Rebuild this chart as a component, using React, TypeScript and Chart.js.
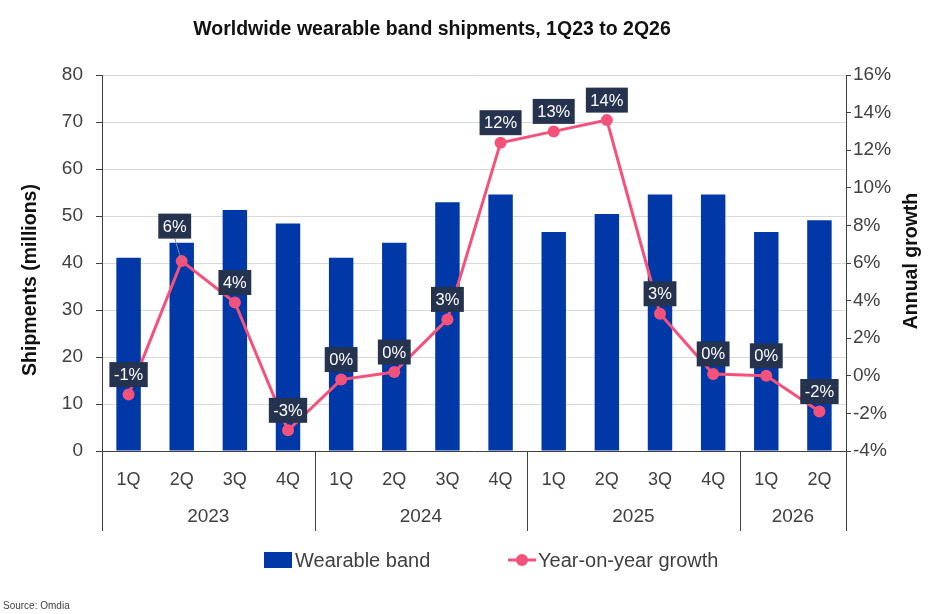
import { useEffect, useRef } from 'react';
import { Chart, registerables, type Plugin } from 'chart.js';

Chart.register(...registerables);

const QUARTERS = ['1Q', '2Q', '3Q', '4Q', '1Q', '2Q', '3Q', '4Q', '1Q', '2Q', '3Q', '4Q', '1Q', '2Q'];
const YEARS = ['2023', '2024', '2025', '2026'];
const YEAR_SPANS = [4, 4, 4, 2];
// millions of units
const SHIPMENTS = [41.1, 44.3, 51.3, 48.4, 41.1, 44.3, 52.9, 54.6, 46.6, 50.4, 54.6, 54.6, 46.6, 49.1];
// year-on-year growth, %
const GROWTH = [-1.0, 6.1, 3.9, -2.9, -0.2, 0.2, 3.0, 12.4, 13.0, 13.6, 3.3, 0.1, 0.0, -1.9];

const FONT = '"Liberation Sans", Arial, sans-serif';
const TEXT = '#404040';
const BAR = '#0038a8';
const LINE = '#f5527b';
const BOX = '#26334f';

const overlay: Plugin<'bar'> = {
  id: 'overlay',
  afterDraw(chart) {
    const { ctx, chartArea } = chart;
    const x = chart.scales.x;
    const step = x.getPixelForValue(1) - x.getPixelForValue(0);

    ctx.save();

    // title
    ctx.fillStyle = '#111';
    ctx.font = `bold 19.5px ${FONT}`;
    ctx.textAlign = 'center';
    ctx.textBaseline = 'middle';
    ctx.fillText('Worldwide wearable band shipments, 1Q23 to 2Q26', 432, 30);

    // axis titles
    ctx.save();
    ctx.translate(31, 280);
    ctx.rotate(-Math.PI / 2);
    ctx.fillText('Shipments (millions)', 0, 0);
    ctx.restore();
    ctx.save();
    ctx.translate(912, 261);
    ctx.rotate(-Math.PI / 2);
    ctx.fillText('Annual growth', 0, 0);
    ctx.restore();

    // year groups under the quarters
    ctx.strokeStyle = TEXT;
    ctx.lineWidth = 1;
    let start = 0;
    const edges = [0];
    YEAR_SPANS.forEach((n) => {
      start += n;
      edges.push(start);
    });
    edges.forEach((i) => {
      const px = Math.round(x.getPixelForValue(0) - step / 2 + i * step) + 0.5;
      ctx.beginPath();
      ctx.moveTo(px, chartArea.bottom);
      ctx.lineTo(px, chartArea.bottom + 80);
      ctx.stroke();
    });
    ctx.fillStyle = TEXT;
    ctx.font = `19px ${FONT}`;
    YEARS.forEach((year, k) => {
      const a = edges[k];
      const b = edges[k + 1];
      const mid = x.getPixelForValue(0) - step / 2 + ((a + b) / 2) * step;
      ctx.fillText(year, mid, chartArea.bottom + 66);
    });

    // data labels on the growth line
    const meta = chart.getDatasetMeta(1);
    ctx.font = `16.5px ${FONT}`;
    meta.data.forEach((pt, i) => {
      const lift = i === 1 ? 35 : 20;
      const cx = pt.x - (i === 1 ? 7 : 0);
      const cy = pt.y - lift;
      const label = `${Math.round(GROWTH[i])}%`;
      const w = ctx.measureText(label).width + 9;
      const h = 25;
      if (i === 1) {
        ctx.strokeStyle = '#8a8a8a';
        ctx.beginPath();
        ctx.moveTo(cx, cy + h / 2);
        ctx.lineTo(pt.x, pt.y);
        ctx.stroke();
      }
      ctx.fillStyle = BOX;
      ctx.fillRect(cx - w / 2, cy - h / 2, w, h);
      ctx.fillStyle = '#fff';
      ctx.fillText(label, cx, cy + 1);
    });

    // legend
    const ly = 560;
    ctx.font = `20px ${FONT}`;
    ctx.textAlign = 'left';
    ctx.fillStyle = BAR;
    ctx.fillRect(264, ly - 8, 28, 16);
    ctx.fillStyle = TEXT;
    ctx.fillText('Wearable band', 295, ly + 1);
    ctx.strokeStyle = LINE;
    ctx.lineWidth = 3;
    ctx.beginPath();
    ctx.moveTo(508, ly);
    ctx.lineTo(536, ly);
    ctx.stroke();
    ctx.fillStyle = LINE;
    ctx.beginPath();
    ctx.arc(522, ly, 6, 0, Math.PI * 2);
    ctx.fill();
    ctx.fillStyle = TEXT;
    ctx.fillText('Year-on-year growth', 538, ly + 1);

    // source
    ctx.font = `10px ${FONT}`;
    ctx.fillText('Source: Omdia', 3, 606);

    ctx.restore();
  },
};

export default function App() {
  const canvasRef = useRef<HTMLCanvasElement | null>(null);

  useEffect(() => {
    document.body.style.margin = '0';
    const canvas = canvasRef.current;
    if (!canvas) return;

    const chart = new Chart(canvas, {
      type: 'bar',
      data: {
        labels: QUARTERS,
        datasets: [
          {
            type: 'bar',
            label: 'Wearable band',
            data: SHIPMENTS,
            backgroundColor: BAR,
            yAxisID: 'y',
            categoryPercentage: 1,
            barPercentage: 0.46,
            order: 1,
          },
          {
            type: 'line',
            label: 'Year-on-year growth',
            data: GROWTH,
            borderColor: LINE,
            backgroundColor: LINE,
            borderWidth: 3,
            pointRadius: 6,
            pointBackgroundColor: LINE,
            pointBorderWidth: 0,
            yAxisID: 'y1',
            order: 0,
          },
        ] as any,
      },
      options: {
        responsive: true,
        maintainAspectRatio: false,
        animation: false,
        layout: { padding: { top: 75, bottom: 83, left: 0, right: 0 } },
        plugins: {
          legend: { display: false },
          tooltip: { enabled: false },
        },
        scales: {
          x: {
            grid: { display: false },
            border: { display: true, color: TEXT },
            ticks: { color: TEXT, font: { family: FONT, size: 18 }, padding: 10 },
            afterFit: (s) => {
              s.height = 80;
            },
          },
          y: {
            position: 'left',
            min: 0,
            max: 80,
            ticks: { stepSize: 10, color: TEXT, font: { family: FONT, size: 19 }, padding: 13 },
            grid: { color: '#d9d9d9', tickColor: TEXT, tickLength: 6 },
            border: { color: TEXT },
            afterFit: (s) => {
              s.width = 102;
            },
          },
          y1: {
            position: 'right',
            min: -4,
            max: 16,
            ticks: {
              stepSize: 2,
              color: TEXT,
              font: { family: FONT, size: 19 },
              padding: 2,
              callback: (v) => `${v}%`,
            },
            grid: { drawOnChartArea: false, tickColor: TEXT, tickLength: 5 },
            border: { color: TEXT },
            afterFit: (s) => {
              s.width = 94;
            },
          },
        },
      },
      plugins: [overlay],
    });

    return () => chart.destroy();
  }, []);

  return (
    <div style={{ position: 'relative', width: 940, height: 614 }}>
      <canvas ref={canvasRef} />
    </div>
  );
}
